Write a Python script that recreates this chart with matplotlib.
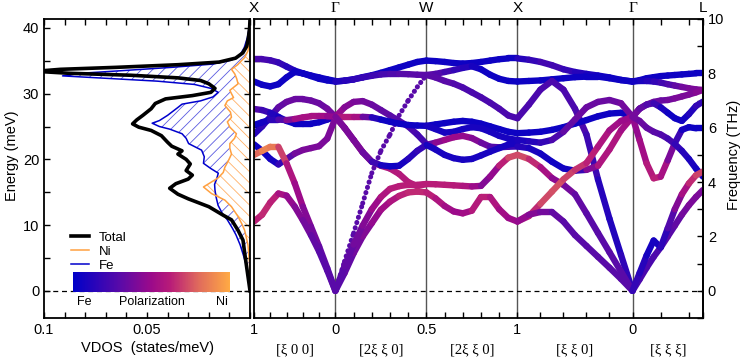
import numpy as np
import matplotlib
matplotlib.use('Agg')
import matplotlib.pyplot as plt
from matplotlib.collections import LineCollection
from matplotlib.colors import LinearSegmentedColormap
from matplotlib.cm import ScalarMappable
from matplotlib.lines import Line2D
from matplotlib.ticker import MultipleLocator, FixedLocator

plt.rcParams['font.family'] = ['Liberation Sans', 'DejaVu Sans']
plt.rcParams['hatch.linewidth'] = 0.6

THZ = 4.1357  # meV per THz

## VDOS (states/meV) against energy (meV)
tot_e = [0, 2, 4.2, 6, 7.7, 9.2, 10.8, 11.5, 12.8, 14.0, 14.7, 15.6, 16.3, 17.0, 17.6, 18.3, 19.3,
         20.0, 20.8, 21.3, 22.0, 22.6, 23.6, 24.4, 24.9, 25.4, 26.0, 26.7, 27.7, 28.5, 29.2, 29.7,
         30.2, 30.8, 31.5, 32.0, 32.4, 32.8, 33.1, 33.4, 33.7, 34.0, 34.4, 34.8, 35.4, 36.2, 37.2,
         38.5, 40, 41.3]
tot_v = [0, 0.0009, 0.0019, 0.0027, 0.0034, 0.0058, 0.009, 0.013, 0.020, 0.030, 0.035, 0.039,
         0.036, 0.030, 0.028, 0.031, 0.029, 0.031, 0.035, 0.033, 0.038, 0.040, 0.043, 0.048, 0.054,
         0.057, 0.055, 0.052, 0.048, 0.046, 0.041, 0.028, 0.019, 0.017, 0.020, 0.024, 0.035, 0.058,
         0.088, 0.104, 0.092, 0.065, 0.035, 0.015, 0.007, 0.0035, 0.0016, 0.0008, 0.0002, 0.0]

fe_e = [0, 2, 4, 5.5, 7, 8.5, 9.5, 10.8, 11.8, 13.0, 14.3, 15.3, 16.2, 17.0, 17.9, 18.6, 19.4,
        20.4, 21.4, 22.4, 23.2, 23.9, 24.6, 25.0, 25.5, 25.9, 26.7, 27.9, 28.4, 28.9, 29.5, 30.2,
        30.8, 31.4, 31.9, 32.3, 32.7, 33.1, 33.5, 34.0, 34.5, 35.1, 35.8, 37.0, 38.5, 40, 41.3]
fe_v = [0, 0.0009, 0.0019, 0.0033, 0.0048, 0.0068, 0.0085, 0.011, 0.0135, 0.0155, 0.0165, 0.017,
        0.0172, 0.0162, 0.0154, 0.019, 0.0226, 0.0222, 0.0235, 0.0298, 0.031, 0.033, 0.039, 0.044,
        0.0475, 0.044, 0.040, 0.035, 0.033, 0.024, 0.018, 0.0154, 0.019, 0.027, 0.045, 0.068, 0.091,
        0.082, 0.062, 0.038, 0.018, 0.009, 0.005, 0.0028, 0.0013, 0.0004, 0.0]

ni_e = [0, 4, 7, 9.2, 10.2, 11.3, 12.8, 13.8, 14.8, 15.8, 16.5, 17.2, 18.0, 18.8, 19.8, 20.8, 21.7,
        22.4, 23.2, 23.9, 24.9, 25.7, 26.4, 27.2, 28.2, 28.9, 29.4, 30.0, 30.5, 31.5, 32.3, 33.0,
        33.7, 34.4, 35.0, 35.5, 36.5, 38, 40]
ni_v = [0, 0.0002, 0.001, 0.0026, 0.004, 0.0058, 0.009, 0.0122, 0.0187, 0.0226, 0.019, 0.0154,
        0.013, 0.0122, 0.0105, 0.009, 0.0098, 0.0098, 0.0075, 0.0066, 0.0098, 0.011, 0.009, 0.0095,
        0.0122, 0.011, 0.008, 0.009, 0.0098, 0.0058, 0.0065, 0.0074, 0.009, 0.006, 0.0042, 0.0026,
        0.001, 0.0003, 0.0]

## phonon dispersion (THz), polarization 0 = Fe, 1 = Ni
nodes = [0.0, 1.0, 2.118, 3.236, 4.650, 5.516]
node_names = ['X', 'Γ', 'W', 'X', 'Γ', 'L']
node_ticks = ['1', '0', '0.5', '1', '0', '']
seg_names = ['[ξ 0 0]', '[2ξ ξ 0]', '[2ξ ξ 0]', '[ξ ξ 0]', '[ξ ξ ξ]']
seg_minor = [5, 5, 5, 5, 2.5]
t = [0.0, 0.1, 0.2, 0.3, 0.4, 0.5, 0.6, 0.7, 0.8, 0.9, 1.0]

# X -> Gamma
seg1_f = [[8.52, 8.52, 8.48, 8.40, 8.25, 8.10, 8.00, 7.92, 7.85, 7.78, 7.72],
          [7.70, 7.58, 7.52, 7.60, 7.85, 8.05, 8.00, 7.90, 7.80, 7.74, 7.70],
          [5.76, 6.05, 6.40, 6.75, 6.95, 7.05, 7.05, 7.00, 6.90, 6.70, 6.40],
          [6.69, 6.65, 6.55, 6.40, 6.25, 6.15, 6.15, 6.15, 6.20, 6.30, 6.40],
          [6.10, 6.20, 6.30, 6.30, 6.28, 6.32, 6.38, 6.42, 6.42, 6.42, 6.40],
          [5.39, 5.15, 4.85, 4.65, 4.85, 5.05, 5.18, 5.25, 5.32, 5.60, 6.35],
          [5.00, 5.15, 5.30, 5.30, 4.69, 3.96, 3.10, 2.36, 1.63, 0.83, 0.00],
          [2.55, 2.80, 3.25, 3.58, 3.50, 3.10, 2.60, 2.05, 1.45, 0.75, 0.00]]
seg1_p = [[0.25, 0.25, 0.22, 0.2, 0.15, 0.1, 0.08, 0.06, 0.05, 0.05, 0.05],
          [0.05, 0.05, 0.05, 0.05, 0.05, 0.05, 0.05, 0.05, 0.05, 0.05, 0.05],
          [0.1, 0.15, 0.2, 0.3, 0.35, 0.35, 0.35, 0.35, 0.35, 0.35, 0.4],
          [0.3, 0.25, 0.15, 0.08, 0.05, 0.05, 0.05, 0.05, 0.05, 0.05, 0.1],
          [0.05, 0.05, 0.1, 0.2, 0.35, 0.5, 0.55, 0.55, 0.55, 0.5, 0.45],
          [0.05, 0.05, 0.05, 0.1, 0.25, 0.35, 0.4, 0.4, 0.4, 0.4, 0.4],
          [0.75, 0.85, 0.9, 0.8, 0.6, 0.55, 0.45, 0.4, 0.35, 0.3, 0.3],
          [0.6, 0.65, 0.65, 0.6, 0.5, 0.45, 0.4, 0.35, 0.3, 0.3, 0.3]]

# Gamma -> W  (third branch is the dotted one)
seg2_f = [[7.70, 7.73, 7.78, 7.86, 7.93, 8.02, 8.12, 8.22, 8.32, 8.42, 8.47],
          [7.70, 7.73, 7.78, 7.85, 7.91, 7.96, 7.98, 7.98, 7.97, 7.95, 7.94],
          [0.00, 1.08, 2.12, 3.22, 4.33, 5.15, 5.75, 6.45, 7.00, 7.50, 7.94],
          [6.40, 6.75, 6.95, 6.98, 6.85, 6.65, 6.45, 6.25, 6.05, 5.75, 5.40],
          [6.40, 6.40, 6.40, 6.40, 6.38, 6.30, 6.22, 6.15, 6.10, 6.08, 6.07],
          [6.40, 6.00, 5.55, 5.10, 4.75, 4.60, 4.50, 4.30, 4.00, 3.85, 3.93],
          [6.40, 6.00, 5.55, 5.10, 4.75, 4.62, 4.58, 4.60, 4.85, 5.15, 5.37],
          [0.00, 0.65, 1.38, 2.00, 2.49, 2.98, 3.28, 3.49, 3.62, 3.65, 3.62],
          [0.00, 0.90, 1.70, 2.40, 3.00, 3.45, 3.75, 3.85, 3.90, 3.90, 3.93]]
seg2_p = [[0.05, 0.05, 0.05, 0.05, 0.05, 0.05, 0.05, 0.05, 0.05, 0.05, 0.05],
          [0.1, 0.12, 0.15, 0.18, 0.2, 0.22, 0.25, 0.28, 0.3, 0.3, 0.3],
          [0.3, 0.3, 0.3, 0.3, 0.3, 0.3, 0.3, 0.3, 0.3, 0.3, 0.3],
          [0.5, 0.45, 0.4, 0.4, 0.35, 0.35, 0.3, 0.3, 0.25, 0.25, 0.2],
          [0.55, 0.6, 0.6, 0.5, 0.2, 0.05, 0.05, 0.05, 0.05, 0.05, 0.05],
          [0.45, 0.45, 0.45, 0.5, 0.5, 0.55, 0.6, 0.6, 0.6, 0.62, 0.62],
          [0.4, 0.4, 0.4, 0.4, 0.3, 0.1, 0.05, 0.05, 0.1, 0.15, 0.2],
          [0.3, 0.3, 0.35, 0.4, 0.45, 0.5, 0.55, 0.6, 0.65, 0.65, 0.65],
          [0.3, 0.3, 0.35, 0.4, 0.45, 0.55, 0.6, 0.62, 0.62, 0.62, 0.62]]

# W -> X
seg3_f = [[8.47, 8.45, 8.42, 8.38, 8.36, 8.38, 8.42, 8.47, 8.52, 8.55, 8.55],
          [7.94, 7.98, 8.05, 8.12, 8.20, 8.26, 8.15, 7.95, 7.80, 7.72, 7.70],
          [7.94, 7.85, 7.72, 7.62, 7.48, 7.30, 7.12, 6.92, 6.70, 6.45, 6.35],
          [6.07, 6.12, 6.17, 6.22, 6.25, 6.22, 6.15, 6.05, 5.95, 5.85, 5.80],
          [6.07, 5.95, 5.82, 5.85, 5.95, 6.02, 5.98, 5.85, 5.70, 5.60, 5.55],
          [5.37, 5.45, 5.55, 5.65, 5.70, 5.62, 5.45, 5.30, 5.28, 5.30, 5.31],
          [5.37, 5.20, 5.00, 4.88, 4.82, 4.85, 4.98, 5.12, 5.25, 5.38, 5.43],
          [3.93, 3.92, 3.90, 3.88, 3.86, 3.84, 3.86, 4.20, 4.60, 4.90, 5.00],
          [3.62, 3.40, 3.12, 2.92, 2.85, 2.95, 3.45, 3.45, 3.00, 2.68, 2.55]]
seg3_p = [[0.05, 0.05, 0.05, 0.05, 0.05, 0.05, 0.05, 0.05, 0.05, 0.05, 0.05],
          [0.3, 0.3, 0.25, 0.2, 0.15, 0.1, 0.05, 0.05, 0.05, 0.05, 0.05],
          [0.3, 0.3, 0.3, 0.3, 0.25, 0.25, 0.25, 0.25, 0.25, 0.25, 0.25],
          [0.05, 0.05, 0.05, 0.05, 0.05, 0.05, 0.05, 0.05, 0.05, 0.05, 0.05],
          [0.08, 0.08, 0.08, 0.08, 0.08, 0.08, 0.08, 0.08, 0.08, 0.08, 0.08],
          [0.3, 0.4, 0.5, 0.5, 0.5, 0.45, 0.4, 0.3, 0.25, 0.2, 0.2],
          [0.08, 0.08, 0.08, 0.08, 0.08, 0.08, 0.08, 0.08, 0.08, 0.08, 0.08],
          [0.62, 0.62, 0.62, 0.62, 0.6, 0.55, 0.45, 0.4, 0.55, 0.7, 0.75],
          [0.65, 0.6, 0.55, 0.5, 0.5, 0.55, 0.65, 0.6, 0.55, 0.5, 0.5]]

# X -> Gamma
seg4_f = [[8.55, 8.50, 8.42, 8.30, 8.15, 8.05, 7.98, 7.92, 7.85, 7.76, 7.70],
          [7.70, 7.72, 7.74, 7.78, 7.82, 7.86, 7.88, 7.88, 7.82, 7.75, 7.70],
          [6.35, 6.85, 7.40, 7.72, 7.40, 6.70, 5.75, 4.10, 2.65, 1.32, 0.00],
          [5.80, 5.82, 5.85, 5.92, 6.02, 6.15, 6.28, 6.42, 6.52, 6.55, 6.40],
          [5.55, 5.50, 5.45, 5.55, 5.85, 6.30, 6.75, 6.95, 7.02, 6.90, 6.40],
          [5.31, 5.25, 5.05, 4.75, 4.50, 4.42, 4.45, 4.60, 5.20, 5.90, 6.40],
          [5.00, 4.85, 4.55, 4.15, 3.90, 3.55, 2.85, 2.13, 1.42, 0.71, 0.00],
          [2.55, 2.75, 3.20, 3.65, 4.10, 4.45, 4.70, 5.30, 5.90, 6.25, 6.40],
          [2.55, 2.80, 2.90, 2.90, 2.55, 2.05, 1.65, 1.25, 0.85, 0.44, 0.00]]
seg4_p = [[0.1, 0.15, 0.2, 0.25, 0.2, 0.15, 0.1, 0.08, 0.05, 0.05, 0.05],
          [0.05, 0.05, 0.05, 0.05, 0.05, 0.05, 0.05, 0.05, 0.05, 0.05, 0.05],
          [0.25, 0.25, 0.25, 0.25, 0.25, 0.25, 0.25, 0.15, 0.1, 0.12, 0.2],
          [0.05, 0.05, 0.05, 0.05, 0.05, 0.05, 0.05, 0.05, 0.05, 0.05, 0.05],
          [0.1, 0.1, 0.15, 0.2, 0.3, 0.35, 0.35, 0.35, 0.35, 0.35, 0.4],
          [0.15, 0.1, 0.08, 0.05, 0.05, 0.08, 0.3, 0.55, 0.6, 0.55, 0.5],
          [0.75, 0.7, 0.6, 0.5, 0.4, 0.35, 0.3, 0.3, 0.3, 0.3, 0.3],
          [0.5, 0.6, 0.7, 0.75, 0.72, 0.7, 0.65, 0.6, 0.55, 0.5, 0.5],
          [0.5, 0.45, 0.4, 0.35, 0.3, 0.3, 0.3, 0.3, 0.3, 0.3, 0.3]]

# Gamma -> L
seg5_f = [[7.70, 7.75, 7.82, 7.86, 7.90, 7.92, 7.94, 7.96, 7.98, 8.00, 8.00],
          [7.70, 7.72, 7.72, 7.70, 7.66, 7.60, 7.55, 7.50, 7.45, 7.41, 7.39],
          [6.40, 6.70, 6.85, 6.95, 7.00, 7.02, 7.08, 7.15, 7.22, 7.30, 7.39],
          [6.40, 6.70, 6.85, 6.90, 6.75, 6.55, 6.35, 6.25, 6.50, 6.80, 6.96],
          [6.40, 5.55, 4.69, 4.14, 4.20, 4.80, 5.43, 5.92, 6.02, 5.98, 5.98],
          [6.40, 6.25, 6.00, 5.85, 5.75, 5.60, 5.40, 5.15, 4.85, 4.50, 4.20],
          [0.00, 0.42, 0.85, 1.25, 1.60, 2.00, 2.40, 2.80, 3.15, 3.45, 3.71],
          [0.00, 0.65, 1.30, 1.85, 1.60, 2.30, 3.00, 3.55, 3.95, 4.25, 4.39]]
seg5_p = [[0.05, 0.05, 0.05, 0.05, 0.05, 0.05, 0.05, 0.05, 0.05, 0.05, 0.05],
          [0.05, 0.08, 0.1, 0.15, 0.2, 0.25, 0.3, 0.35, 0.4, 0.4, 0.4],
          [0.4, 0.4, 0.4, 0.35, 0.35, 0.35, 0.4, 0.4, 0.4, 0.42, 0.45],
          [0.4, 0.35, 0.3, 0.25, 0.15, 0.05, 0.05, 0.05, 0.08, 0.15, 0.2],
          [0.45, 0.5, 0.55, 0.65, 0.6, 0.5, 0.3, 0.1, 0.05, 0.05, 0.05],
          [0.4, 0.35, 0.35, 0.3, 0.3, 0.25, 0.2, 0.15, 0.1, 0.08, 0.05],
          [0.25, 0.25, 0.25, 0.25, 0.28, 0.3, 0.3, 0.35, 0.4, 0.4, 0.4],
          [0.2, 0.15, 0.1, 0.05, 0.1, 0.2, 0.35, 0.5, 0.6, 0.7, 0.72]]

segs_f = [seg1_f, seg2_f, seg3_f, seg4_f, seg5_f]
segs_p = [seg1_p, seg2_p, seg3_p, seg4_p, seg5_p]
dotted = (1, 2)

pol_cmap = LinearSegmentedColormap.from_list(
    'pol', [(0.0, '#0000c8'), (0.3, '#5a0aa8'), (0.5, '#9c0a8a'), (0.62, '#b81c78'),
            (0.8, '#e06a5c'), (1.0, '#ffaa44')])

fig = plt.figure(figsize=(7.47, 3.59), dpi=100)
ax1 = fig.add_axes([0.0589, 0.1142, 0.2758, 0.8329])
ax2 = fig.add_axes([0.3400, 0.1142, 0.6011, 0.8329])

ylim = (-1 * THZ, 10 * THZ)

# ---------------- left panel
ax1.fill_betweenx(fe_e, fe_v, 0, facecolor='white', edgecolor='#5a5ae0', hatch='///', linewidth=0)
ax1.fill_betweenx(ni_e, ni_v, 0, facecolor='white', edgecolor='#ffb066', hatch='\\\\\\', linewidth=0)
ax1.plot(fe_v, fe_e, color='#0000cc', lw=1.1)
ax1.plot(ni_v, ni_e, color='#ffa040', lw=1.1)
ax1.plot(tot_v, tot_e, color='black', lw=2.6)
ax1.axhline(0, color='black', ls='--', lw=0.9, dashes=(4, 3))

ax1.set_xlim(0.1, 0.0)
ax1.set_ylim(*ylim)
ax1.xaxis.set_major_locator(FixedLocator([0.1, 0.05]))
ax1.set_xticklabels(['0.1', '0.05'])
ax1.xaxis.set_minor_locator(MultipleLocator(0.01))
ax1.yaxis.set_major_locator(MultipleLocator(10))
ax1.yaxis.set_minor_locator(MultipleLocator(5))
ax1.tick_params(which='both', direction='in', top=True, right=True, length=4, width=1,
                labelsize=10.5)
ax1.set_xlabel('VDOS  (states/meV)', fontsize=10.5, labelpad=3)
fig.text(12 / 747, 1 - 156 / 359, 'Energy (meV)', rotation=90, ha='center', va='center',
         fontsize=10.5)

handles = [Line2D([], [], color='black', lw=2.6),
           Line2D([], [], color='#ffa040', lw=1.1),
           Line2D([], [], color='#0000cc', lw=1.1)]
ax1.legend(handles, ['Total', 'Ni', 'Fe'], loc='upper left', bbox_to_anchor=(0.13, 0.29),
           frameon=False, fontsize=9.5, handlelength=1.4, handletextpad=0.7,
           labelspacing=0.15, borderpad=0, borderaxespad=0)

cax = ax1.inset_axes([0.141, 0.087, 0.762, 0.067])
cb = fig.colorbar(ScalarMappable(cmap=pol_cmap), cax=cax, orientation='horizontal')
cb.outline.set_visible(False)
cax.set_xticks([])
cax.set_yticks([])
ax1.text(0.194, 0.052, 'Fe', transform=ax1.transAxes, ha='center', va='center', fontsize=9)
ax1.text(0.524, 0.052, 'Polarization', transform=ax1.transAxes, ha='center', va='center', fontsize=9)
ax1.text(0.864, 0.052, 'Ni', transform=ax1.transAxes, ha='center', va='center', fontsize=9)

# ---------------- right panel
for s in range(5):
    x0, x1 = nodes[s], nodes[s + 1]
    xs = [x0 + tt * (x1 - x0) for tt in t]
    for b, (fr, po) in enumerate(zip(segs_f[s], segs_p[s])):
        ys = [f * THZ for f in fr]
        pts = list(zip(xs, ys))
        lines = [[pts[i], pts[i + 1]] for i in range(len(pts) - 1)]
        cols = [pol_cmap(0.5 * (po[i] + po[i + 1])) for i in range(len(po) - 1)]
        if (s, b) == dotted:
            lc = LineCollection(lines, colors=cols, linewidths=3.6, linestyles=[(0, (0.05, 1.05))])
        else:
            lc = LineCollection(lines, colors=cols, linewidths=4.6)
        lc.set_capstyle('round')
        lc.set_joinstyle('round')
        ax2.add_collection(lc)

for xn in nodes[1:-1]:
    ax2.axvline(xn, color='#555555', lw=1.0, zorder=0.5)
ax2.axhline(0, color='black', ls='--', lw=0.9, dashes=(4, 3), zorder=0.6)

ax2.set_xlim(nodes[0], nodes[-1])
ax2.set_ylim(*ylim)
ax2.set_xticks(nodes)
ax2.set_xticklabels(node_ticks)
minor = []
for s in range(5):
    step = (nodes[s + 1] - nodes[s]) / seg_minor[s]
    k = 1
    while nodes[s] + k * step < nodes[s + 1] - 1e-6:
        minor.append(nodes[s] + k * step)
        k += 1
ax2.set_xticks(minor, minor=True)
ax2.yaxis.set_major_locator(MultipleLocator(5))
ax2.tick_params(which='both', direction='in', top=True, left=True, right=False, length=4,
                width=1, labelsize=10.5, labelleft=False)

sec = ax2.secondary_yaxis('right', functions=(lambda e: e / THZ, lambda f: f * THZ))
sec.yaxis.set_major_locator(FixedLocator([0, 2, 4, 6, 8, 10]))
sec.yaxis.set_minor_locator(FixedLocator([-1, 1, 3, 5, 7, 9]))
sec.tick_params(which='both', direction='in', length=4, width=1, labelsize=10.5)
fig.text(734 / 747, 1 - 155 / 359, 'Frequency (THz)', rotation=90, ha='center', va='center',
         fontsize=10.5)

for xn, nm in zip(nodes, node_names):
    fam = ['Liberation Serif'] if nm == 'Γ' else ['Liberation Sans']
    ax2.text(xn, 1.012, nm, transform=ax2.get_xaxis_transform(), ha='center', va='bottom',
             fontsize=11, family=fam)
for s in range(5):
    ax2.text(0.5 * (nodes[s] + nodes[s + 1]), -0.107, seg_names[s],
             transform=ax2.get_xaxis_transform(), ha='center', va='center', fontsize=10.5,
             family=['Liberation Serif', 'DejaVu Serif'])

for ax in (ax1, ax2):
    for sp in ax.spines.values():
        sp.set_linewidth(1.3)
sec.spines['right'].set_linewidth(1.3)

fig.savefig('out.png', dpi=100)
